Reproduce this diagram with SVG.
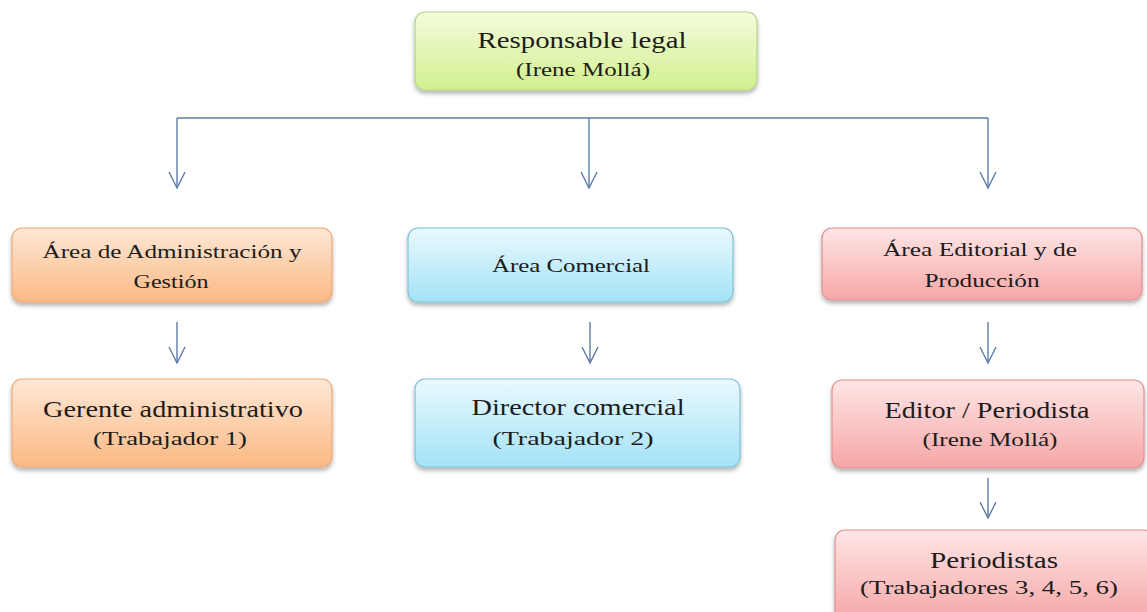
<svg xmlns="http://www.w3.org/2000/svg" width="1147" height="612" viewBox="0 0 1147 612">
<defs>
<linearGradient id="gGreen" x1="0" y1="0" x2="0" y2="1"><stop offset="0" stop-color="#f4fcdd"/><stop offset="1" stop-color="#d2ef8e"/></linearGradient>
<linearGradient id="gOrange" x1="0" y1="0" x2="0" y2="1"><stop offset="0" stop-color="#fee8d6"/><stop offset="1" stop-color="#fab984"/></linearGradient>
<linearGradient id="gBlue" x1="0" y1="0" x2="0" y2="1"><stop offset="0" stop-color="#eaf9fe"/><stop offset="1" stop-color="#a3e2f6"/></linearGradient>
<linearGradient id="gRed" x1="0" y1="0" x2="0" y2="1"><stop offset="0" stop-color="#fee6e6"/><stop offset="1" stop-color="#f6a6a6"/></linearGradient>
<filter id="sh" x="-10%" y="-20%" width="120%" height="150%"><feDropShadow dx="0" dy="3" stdDeviation="2.2" flood-color="#000" flood-opacity="0.3"/></filter>
<marker id="ah" markerUnits="userSpaceOnUse" markerWidth="20" markerHeight="20" viewBox="-18 -10 20 20" refX="0" refY="0" orient="auto">
<path d="M-16,-8 L0,0 L-16,8" fill="none" stroke="#5b7ca8" stroke-width="1.4"/>
</marker>
</defs>
<style>
.box{stroke-width:1.2;filter:url(#sh)}
.green{fill:url(#gGreen);stroke:#b5d48a}
.orange{fill:url(#gOrange);stroke:#eeaa77}
.blue{fill:url(#gBlue);stroke:#7cc2da}
.red{fill:url(#gRed);stroke:#df9090}
text{font-family:"Liberation Serif","Times New Roman",serif;fill:#1c1c1c;text-anchor:middle}
.big{font-size:24px}
.small{font-size:18px}
.lbl{font-size:18px}
.conn{fill:none;stroke:#5b7ca8;stroke-width:1.4}
</style>
<rect width="1147" height="612" fill="#fff"/>
<g id="connectors">
<line class="conn" x1="177" y1="118" x2="988" y2="118"/>
<line class="conn" x1="177" y1="118" x2="177" y2="188" marker-end="url(#ah)"/>
<line class="conn" x1="589" y1="118" x2="589" y2="188" marker-end="url(#ah)"/>
<line class="conn" x1="988" y1="118" x2="988" y2="188" marker-end="url(#ah)"/>
<line class="conn" x1="177" y1="322" x2="177" y2="363" marker-end="url(#ah)"/>
<line class="conn" x1="590" y1="322" x2="590" y2="363" marker-end="url(#ah)"/>
<line class="conn" x1="988" y1="322" x2="988" y2="363" marker-end="url(#ah)"/>
<line class="conn" x1="988" y1="478" x2="988" y2="518" marker-end="url(#ah)"/>
</g>
<g id="n-responsable">
<rect class="box green" x="415" y="12" width="342" height="78" rx="10"/>
<text class="big" x="582" y="48" textLength="209" lengthAdjust="spacingAndGlyphs">Responsable legal</text>
<text class="small" x="583" y="76" textLength="134" lengthAdjust="spacingAndGlyphs">(Irene Mollá)</text>
</g>
<g id="n-admin">
<rect class="box orange" x="12" y="228" width="320" height="74" rx="10"/>
<text class="lbl" x="172" y="258" textLength="259" lengthAdjust="spacingAndGlyphs">Área de Administración y</text>
<text class="lbl" x="171" y="288" textLength="75" lengthAdjust="spacingAndGlyphs">Gestión</text>
</g>
<g id="n-gerente">
<rect class="box orange" x="12" y="379" width="320" height="88" rx="10"/>
<text class="big" x="173" y="417" textLength="260" lengthAdjust="spacingAndGlyphs">Gerente administrativo</text>
<text class="small" x="170" y="445" textLength="154" lengthAdjust="spacingAndGlyphs">(Trabajador 1)</text>
</g>
<g id="n-comercial">
<rect class="box blue" x="408" y="228" width="325" height="74" rx="10"/>
<text class="lbl" x="571" y="272" textLength="158" lengthAdjust="spacingAndGlyphs">Área Comercial</text>
</g>
<g id="n-director">
<rect class="box blue" x="415" y="379" width="325" height="88" rx="10"/>
<text class="big" x="578" y="415" textLength="213" lengthAdjust="spacingAndGlyphs">Director comercial</text>
<text class="small" x="573" y="445" textLength="161" lengthAdjust="spacingAndGlyphs">(Trabajador 2)</text>
</g>
<g id="n-editorial">
<rect class="box red" x="822" y="228" width="320" height="72" rx="10"/>
<text class="lbl" x="980" y="256" textLength="194" lengthAdjust="spacingAndGlyphs">Área Editorial y de</text>
<text class="lbl" x="982" y="287" textLength="115" lengthAdjust="spacingAndGlyphs">Producción</text>
</g>
<g id="n-editor">
<rect class="box red" x="832" y="380" width="312" height="88" rx="10"/>
<text class="big" x="987" y="418" textLength="205" lengthAdjust="spacingAndGlyphs">Editor / Periodista</text>
<text class="small" x="990" y="446" textLength="135" lengthAdjust="spacingAndGlyphs">(Irene Mollá)</text>
</g>
<g id="n-periodistas">
<rect class="box red" x="835" y="530" width="320" height="92" rx="10"/>
<text class="big" x="994" y="568" textLength="128" lengthAdjust="spacingAndGlyphs">Periodistas</text>
<text class="small" x="989" y="594" textLength="258" lengthAdjust="spacingAndGlyphs">(Trabajadores 3, 4, 5, 6)</text>
</g>
</svg>
